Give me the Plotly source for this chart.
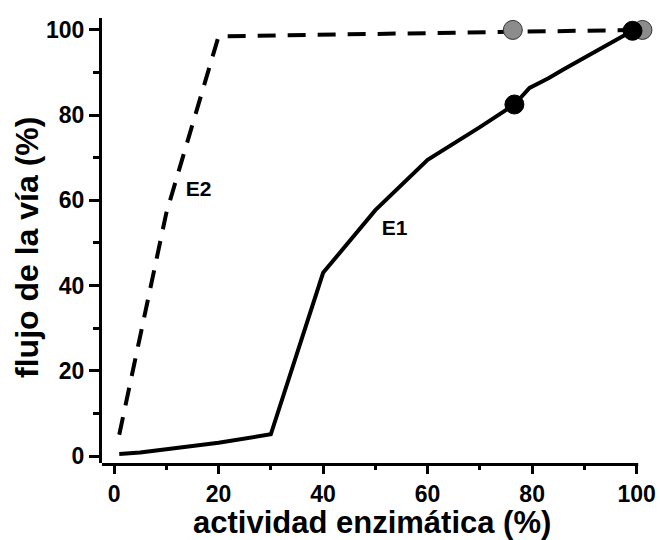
import plotly.graph_objects as go

# E1 (solid line)
e1_x = [1, 5, 10, 20, 30, 40, 50, 60, 70, 76.6, 79.5, 83.2, 85.8, 99.2]
e1_y = [0.5, 0.8, 1.6, 3.1, 5.1, 43, 57.7, 69.5, 77.2, 82.5, 86.4, 88.7, 90.6, 99.8]
# E2 (dashed line)
e2_x = [1, 10, 20, 100]
e2_y = [5, 57, 98.5, 100]
# highlighted points
e2_pts_x = [76.3, 101.1]
e2_pts_y = [100, 100]
e1_pts_x = [76.6, 99.2]
e1_pts_y = [82.5, 99.8]
# labels
label_text = ["E2", "E1"]
label_x = [16.2, 53.7]
label_y = [62.2, 53]

x_ticks = [0, 20, 40, 60, 80, 100]
y_ticks = [0, 20, 40, 60, 80, 100]

x_title = "actividad enzimática (%)"
y_title = "flujo de la vía (%)"

FONT = "Arial, Liberation Sans, sans-serif"

fig = go.Figure()
fig.add_trace(go.Scatter(x=e2_x, y=e2_y, mode="lines",
                         line=dict(color="black", width=4, dash="18px,12px"),
                         cliponaxis=False, showlegend=False))
fig.add_trace(go.Scatter(x=e1_x, y=e1_y, mode="lines",
                         line=dict(color="black", width=4),
                         cliponaxis=False, showlegend=False))
fig.add_trace(go.Scatter(x=e2_pts_x, y=e2_pts_y, mode="markers",
                         marker=dict(size=19, color="#8c8c8c", line=dict(color="#333333", width=1)),
                         cliponaxis=False, showlegend=False))
fig.add_trace(go.Scatter(x=e1_pts_x, y=e1_pts_y, mode="markers",
                         marker=dict(size=19, color="black", line=dict(color="black", width=1)),
                         cliponaxis=False, showlegend=False))
fig.add_trace(go.Scatter(x=label_x, y=label_y, mode="text", text=label_text,
                         textfont=dict(family=FONT, size=21, color="black", weight="bold"),
                         textposition="middle center", cliponaxis=False, showlegend=False))

axis_common = dict(
    linecolor="black", linewidth=3,
    ticks="outside", ticklen=10, tickwidth=3, tickcolor="black",
    showgrid=False, zeroline=False, automargin=False,
    tickfont=dict(family=FONT, size=23, color="black", weight="bold"),
)

X_MIN, X_MAX = -2.3, 103.5
fig.update_xaxes(**axis_common, showline=False, range=[X_MIN, X_MAX], tickvals=x_ticks,
                 minor=dict(ticks="outside", ticklen=6, tickwidth=3, tickcolor="black", dtick=10, tick0=0))
fig.update_yaxes(**axis_common, showline=True, range=[-1.64, 102.8], tickvals=y_ticks,
                 minor=dict(ticks="outside", ticklen=6, tickwidth=3, tickcolor="black", dtick=10, tick0=0))

# x axis line ends at the last tick (100)
fig.add_shape(type="line", xref="x", yref="paper", x0=X_MIN - 0.3, x1=x_ticks[-1] + 0.28,
              ysizemode="pixel", yanchor=0, y0=-1.5, y1=-1.5,
              line=dict(color="black", width=3), layer="above")

fig.add_annotation(text=x_title, xref="paper", yref="paper", x=0.488, y=-0.1326,
                   xanchor="center", yanchor="middle", showarrow=False,
                   font=dict(family=FONT, size=31, color="black", weight="bold"))
fig.add_annotation(text=y_title, xref="paper", yref="paper", x=-0.136, y=0.485,
                   xanchor="center", yanchor="middle", showarrow=False, textangle=-90,
                   font=dict(family=FONT, size=32, color="black", weight="bold"))

fig.update_layout(width=660, height=540, margin=dict(l=102, r=5, t=18, b=77),
                  paper_bgcolor="white", plot_bgcolor="white")

fig.write_html("out.html", config={"displayModeBar": False},
               post_script="document.body.style.margin='0';document.body.style.padding='0';")
